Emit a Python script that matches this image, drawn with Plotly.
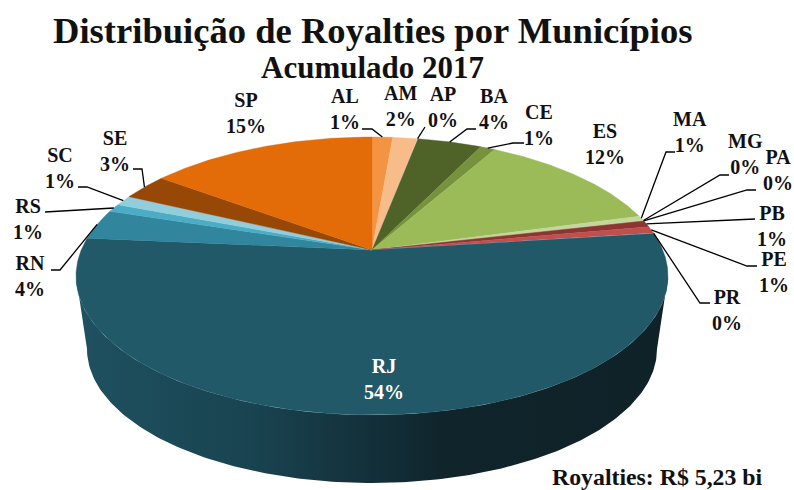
import numpy as np
import plotly.graph_objects as go

# ---- data -----------------------------------------------------------------
regions = ["AL", "AM", "AP", "BA", "CE", "ES", "MA", "MG", "PA", "PB", "PE", "PR",
           "RJ", "RN", "RS", "SC", "SE", "SP"]
shares = [1.35, 1.6, 0.05, 4.2, 0.97, 12.6, 0.55, 0.05, 0.05, 0.75, 0.8, 0.05,
          53.5, 3.5, 0.95, 1.2, 3.05, 14.9]
pct_labels = ["1%", "2%", "0%", "4%", "1%", "12%", "1%", "0%", "0%", "1%", "1%", "0%",
              "54%", "4%", "1%", "1%", "3%", "15%"]
colors = ["#f39443", "#f7bc8a", "#e9e0c0", "#4f6228", "#76923c", "#9bbb59", "#c3d69b", "#b6c98a",
          "#d99694", "#8c3533", "#c0504d", "#95b3d7",
          "#215968", "#31859c", "#4bacc6", "#92cddc", "#974806", "#e36c09"]

title_text = "Distribuição de Royalties por Municípios"
subtitle_text = "Acumulado 2017"
note_text = "Royalties: R$ 5,23 bi"

# ---- layout constants: label centres and leader bends ------------------------
label_pos = {"AL": (345, 109), "AM": (400, 106), "AP": (443, 107), "BA": (494, 109), "CE": (539, 125),
             "ES": (605, 144), "MA": (690, 132), "MG": (745, 154), "PA": (778, 170), "PB": (772, 226),
             "PE": (774, 272), "PR": (727, 310), "RJ": (384, 379), "RN": (30, 276), "RS": (28, 219),
             "SC": (60, 168), "SE": (115, 151), "SP": (246, 113)}
leader_bends = {"AL": [(372, 129), (362, 129)], "AP": [(425, 127)], "BA": [(467, 129), (476, 129)],
                "CE": [(513, 143), (524, 143)], "MA": [(666, 152), (675, 152)],
                "MG": [(720, 175), (729, 175)], "PA": [(747, 190), (756, 190)],
                "PB": [(755, 219)], "PE": [(747, 266), (757, 266)], "PR": [(700, 303), (710, 303)],
                "RN": [(60, 270), (51, 270)], "RS": [(45, 212)], "SC": [(87, 187), (78, 187)],
                "SE": [(142, 169), (133, 169)]}

# ---- perspective projection of the disc ------------------------------------
CX, CY = 372.0, 250.0
A, B, C = 290.8, 134.1, 0.187


def project(frac):
    """Fraction of the circle, clockwise from 12 o'clock, to page position."""
    t = 2 * np.pi * np.asarray(frac)
    u, v = np.sin(t), -np.cos(t)
    w = 1 - C * v
    return CX + A * u / w, CY + B * v / w


def ellipse_front(cx, cy, rx, ry):
    t = np.linspace(np.pi, 0, 181)
    return cx + rx * np.cos(t), cy + ry * np.sin(t)


fig = go.Figure()

# side wall
tx, ty = ellipse_front(372, 276, 296, 139)
bx, by = ellipse_front(372, 349, 285, 134)
fig.add_trace(go.Scatter(
    x=np.r_[tx, bx[::-1]], y=np.r_[ty, by[::-1]], mode="lines", fill="toself",
    line=dict(width=0), hoverinfo="skip",
    fillgradient=dict(type="horizontal", colorscale=[
        [0, "#1f5160"], [0.3, "#194350"], [0.5, "#13303a"], [0.62, "#10242b"], [1, "#0f2228"]]),
))

# top face wedges
total = sum(shares)
cum = np.cumsum([0] + shares) / total
for i, name in enumerate(regions):
    n = max(3, int((cum[i + 1] - cum[i]) * 720))
    ex, ey = project(np.linspace(cum[i], cum[i + 1], n))
    fig.add_trace(go.Scatter(
        x=np.r_[CX, ex, CX], y=np.r_[CY, ey, CY], mode="lines", fill="toself",
        fillcolor=colors[i], line=dict(width=0.4, color=colors[i]), name=name,
        hovertext=f"{name} {pct_labels[i]}", hoverinfo="text",
    ))

# leader lines
for name, bends in leader_bends.items():
    i = regions.index(name)
    sx, sy = project((cum[i] + cum[i + 1]) / 2)
    xs = [float(sx)] + [p[0] for p in bends]
    ys = [float(sy)] + [p[1] for p in bends]
    fig.add_trace(go.Scatter(x=xs, y=ys, mode="lines", line=dict(color="#000000", width=1.3),
                             hoverinfo="skip"))

SERIF = "Liberation Serif"
ann = []
for i, name in enumerate(regions):
    x, y = label_pos[name]
    ann.append(dict(x=x, y=y, text=f"<b>{name}</b><br><b>{pct_labels[i]}</b>", showarrow=False,
                    xanchor="center", yanchor="middle",
                    font=dict(family=SERIF, size=20, color="#ffffff" if name == "RJ" else "#111111")))
ann.append(dict(x=372, y=30, text=f"<b>{title_text}</b>", showarrow=False, xanchor="center", yanchor="middle",
                font=dict(family=SERIF, size=36.6, color="#111111")))
ann.append(dict(x=372, y=67, text=f"<b>{subtitle_text}</b>", showarrow=False, xanchor="center", yanchor="middle",
                font=dict(family=SERIF, size=31, color="#111111")))
ann.append(dict(x=657, y=477, text=f"<b>{note_text}</b>", showarrow=False, xanchor="center", yanchor="middle",
                font=dict(family=SERIF, size=23.8, color="#111111")))

fig.update_layout(
    width=794, height=490, margin=dict(l=0, r=0, t=0, b=0), showlegend=False,
    paper_bgcolor="#ffffff", plot_bgcolor="#ffffff", annotations=ann,
    xaxis=dict(range=[0, 794], visible=False, fixedrange=True),
    yaxis=dict(range=[490, 0], visible=False, fixedrange=True),
)
fig.write_html("out.html", config={"displayModeBar": False},
               post_script="document.body.style.margin='0';document.documentElement.style.overflow='hidden';")
